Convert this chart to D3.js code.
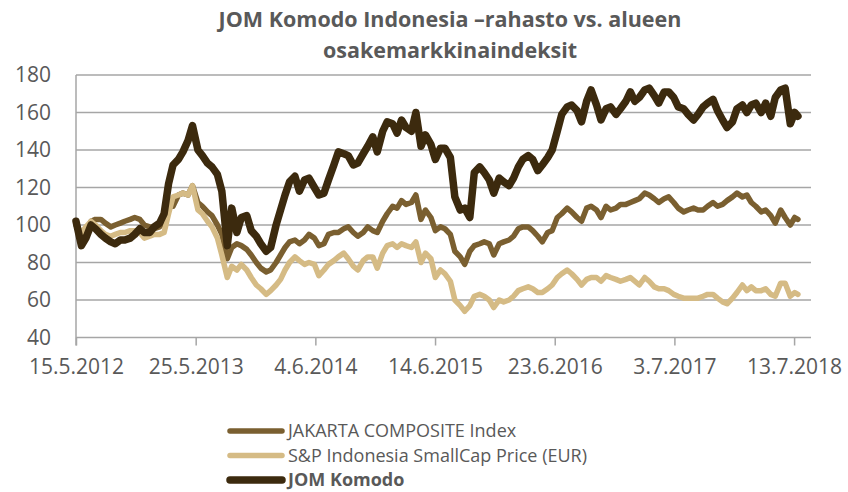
<!DOCTYPE html>
<html lang="fi">
<head>
<meta charset="UTF-8">
<title>JOM Komodo Indonesia</title>
<script src="https://d3js.org/d3.v7.min.js"></script>
<style>
  body { margin: 0; background: #fff; }
  text { font-family: "Open Sans", "Noto Sans", sans-serif; fill: #595959; }
</style>
</head>
<body>
<svg id="chart" width="848" height="492"></svg>
<script>
// semimonthly observation dates
const dates = [
  "2012-05-15","2012-06-01","2012-06-15","2012-07-01","2012-07-15","2012-08-01","2012-08-15","2012-09-01","2012-09-15","2012-10-01","2012-10-15","2012-11-01","2012-11-15","2012-12-01","2012-12-15",
  "2013-01-01","2013-01-15","2013-02-01","2013-02-15","2013-03-01","2013-03-15","2013-04-01","2013-04-15","2013-05-01","2013-05-15","2013-06-01","2013-06-15","2013-07-01","2013-07-15","2013-08-01","2013-08-15","2013-09-01","2013-09-15","2013-10-01","2013-10-15","2013-11-01","2013-11-15","2013-12-01","2013-12-15",
  "2014-01-01","2014-01-15","2014-02-01","2014-02-15","2014-03-01","2014-03-15","2014-04-01","2014-04-15","2014-05-01","2014-05-15","2014-06-01","2014-06-15","2014-07-01","2014-07-15","2014-08-01","2014-08-15","2014-09-01","2014-09-15","2014-10-01","2014-10-15","2014-11-01","2014-11-15","2014-12-01","2014-12-15",
  "2015-01-01","2015-01-15","2015-02-01","2015-02-15","2015-03-01","2015-03-15","2015-04-01","2015-04-15","2015-05-01","2015-05-15","2015-06-01","2015-06-15","2015-07-01","2015-07-15","2015-08-01","2015-08-15","2015-09-01","2015-09-15","2015-10-01","2015-10-15","2015-11-01","2015-11-15","2015-12-01","2015-12-15",
  "2016-01-01","2016-01-15","2016-02-01","2016-02-15","2016-03-01","2016-03-15","2016-04-01","2016-04-15","2016-05-01","2016-05-15","2016-06-01","2016-06-15","2016-07-01","2016-07-15","2016-08-01","2016-08-15","2016-09-01","2016-09-15","2016-10-01","2016-10-15","2016-11-01","2016-11-15","2016-12-01","2016-12-15",
  "2017-01-01","2017-01-15","2017-02-01","2017-02-15","2017-03-01","2017-03-15","2017-04-01","2017-04-15","2017-05-01","2017-05-15","2017-06-01","2017-06-15","2017-07-01","2017-07-15","2017-08-01","2017-08-15","2017-09-01","2017-09-15","2017-10-01","2017-10-15","2017-11-01","2017-11-15","2017-12-01","2017-12-15",
  "2018-01-01","2018-01-15","2018-02-01","2018-02-15","2018-03-01","2018-03-15","2018-04-01","2018-04-15","2018-05-01","2018-05-15","2018-06-01","2018-06-15","2018-07-01","2018-07-15","2018-07-25"
];

const jakarta = [
  100,94,97,102,103,103,101,99,100,101,102,103,104,103,100,
  99,98,99,102,110,110,116,117,116,121,112,110,107,105,100,95,82,88,90,89,87,84,80,77,
  75,76,80,84,88,91,92,90,92,95,93,89,90,95,96,96,98,99,96,94,96,99,97,96,
  102,106,110,109,113,111,112,116,103,108,104,97,99,98,95,86,83,79,86,89,90,91,90,84,
  90,91,92,94,98,99,99,97,94,91,96,97,104,106,109,107,104,102,109,110,108,104,110,108,
  109,111,111,112,113,114,117,116,114,112,114,115,112,109,107,108,109,108,108,110,112,110,111,113,
  115,117,115,116,112,110,107,108,105,101,108,104,100,104,103
];

const smallCap = [
  100,96,99,102,100,97,95,94,95,96,96,97,97,96,93,
  94,95,95,96,106,115,116,117,116,121,108,106,102,99,93,84,72,78,76,79,76,72,68,66,
  63,65,68,71,76,80,83,81,79,80,79,73,76,79,81,83,85,82,78,76,81,83,83,77,
  85,89,90,88,90,89,88,91,80,85,82,72,76,74,70,60,57,54,57,62,63,62,60,56,
  60,59,60,62,65,66,67,66,64,64,66,68,72,74,76,74,71,68,71,72,72,70,73,72,
  71,70,71,72,70,68,72,70,67,66,66,65,63,62,61,61,61,61,62,63,63,61,59,58,
  61,64,68,65,67,65,65,66,63,62,69,69,62,64,63
];

const komodo = [
  102,89,93,100,98,95,93,91,90,92,92,93,95,98,96,
  96,99,101,106,122,132,135,139,145,153,140,137,133,131,127,118,89,109,96,104,105,97,94,90,
  86,88,100,108,116,123,126,118,124,125,120,116,117,124,132,139,138,137,132,133,138,142,147,139,
  150,155,154,149,156,152,150,160,142,148,143,135,141,141,136,115,108,109,104,128,131,128,124,117,
  125,123,121,125,131,135,137,135,129,132,136,140,150,159,163,164,161,155,166,172,164,156,162,163,
  159,162,166,171,166,168,172,173,169,165,171,171,168,163,162,159,156,159,163,165,167,161,156,152,
  155,162,164,160,164,165,160,165,158,168,172,173,154,160,158
];

const tickDates = ["2012-05-15","2013-05-25","2014-06-04","2015-06-14","2016-06-23","2017-07-03","2018-07-13"];
const tickLabels = ["15.5.2012","25.5.2013","4.6.2014","14.6.2015","23.6.2016","3.7.2017","13.7.2018"];
const yTicks = [40, 60, 80, 100, 120, 140, 160, 180];

const titleLines = ["JOM Komodo Indonesia \u2013rahasto vs. alueen", "osakemarkkinaindeksit"];
const seriesNames = ["JAKARTA COMPOSITE Index", "S&P Indonesia SmallCap Price (EUR)", "JOM Komodo"];

const parse = d3.timeParse("%Y-%m-%d");
const svg = d3.select("#chart");

const margin = { top: 75, right: 37, bottom: 154.5, left: 76 };
const width = 848 - margin.left - margin.right;
const height = 492 - margin.top - margin.bottom;

const g = svg.append("g").attr("transform", `translate(${margin.left},${margin.top})`);

const x = d3.scaleTime()
  .domain([parse("2012-05-15"), parse("2018-09-04")])
  .range([0, width]);
const y = d3.scaleLinear().domain([40, 180]).range([height, 0]);

// gridlines
g.selectAll("line.grid")
  .data(yTicks)
  .enter().append("line")
  .attr("class", "grid")
  .attr("x1", 0).attr("x2", width)
  .attr("y1", d => y(d)).attr("y2", d => y(d))
  .attr("stroke", "#a6a6a6")
  .attr("stroke-width", 1.5);

// y axis
const yAxis = g.append("g").call(d3.axisLeft(y).tickValues(yTicks).tickSize(0).tickPadding(25));
yAxis.select(".domain").attr("stroke", "#a6a6a6").attr("stroke-width", 1.5)
  .attr("d", `M0,0V${height + 8}`);
yAxis.selectAll("text").attr("font-size", 21).attr("fill", "#595959")
  .attr("font-family", "'Open Sans', sans-serif");

// x axis
const xAxis = g.append("g")
  .attr("transform", `translate(0,${height})`)
  .call(d3.axisBottom(x)
    .tickValues(tickDates.map(parse))
    .tickFormat((d, i) => tickLabels[i])
    .tickSize(8)
    .tickPadding(14));
xAxis.select(".domain").remove();
xAxis.selectAll("line").attr("stroke", "#a6a6a6").attr("stroke-width", 1.5);
xAxis.selectAll("text").attr("font-size", 21).attr("fill", "#595959")
  .attr("font-family", "'Open Sans', sans-serif");

// series
const series = [
  { name: seriesNames[0], values: jakarta, color: "#7a5f30", w: 5.5 },
  { name: seriesNames[1], values: smallCap, color: "#d5bb85", w: 5.5 },
  { name: seriesNames[2], values: komodo, color: "#3c2a0e", w: 7.5 }
];

const line = d3.line()
  .x((d, i) => x(parse(dates[i])))
  .y(d => y(d));

g.selectAll("path.series")
  .data(series)
  .enter().append("path")
  .attr("class", "series")
  .attr("d", d => line(d.values))
  .attr("fill", "none")
  .attr("stroke", d => d.color)
  .attr("stroke-width", d => d.w)
  .attr("stroke-linejoin", "round")
  .attr("stroke-linecap", "round");

// title
svg.append("text")
  .attr("text-anchor", "middle")
  .attr("font-size", 21.5)
  .attr("font-weight", "bold")
  .selectAll("tspan")
  .data(titleLines)
  .enter().append("tspan")
  .attr("x", 450)
  .attr("y", (d, i) => 27 + i * 31)
  .text(d => d);

// legend
const legend = svg.append("g").attr("transform", "translate(230,431)");
const rows = legend.selectAll("g")
  .data(series)
  .enter().append("g")
  .attr("transform", (d, i) => `translate(0,${i * 24.5})`);
rows.append("line")
  .attr("x1", 0).attr("x2", 52)
  .attr("stroke", d => d.color)
  .attr("stroke-width", d => d.w)
  .attr("stroke-linecap", "round");
rows.append("text")
  .attr("x", 58)
  .attr("dy", "0.35em")
  .attr("font-size", 18)
  .attr("font-weight", (d, i) => i === 2 ? "bold" : "normal")
  .text(d => d.name);
</script>
</body>
</html>
